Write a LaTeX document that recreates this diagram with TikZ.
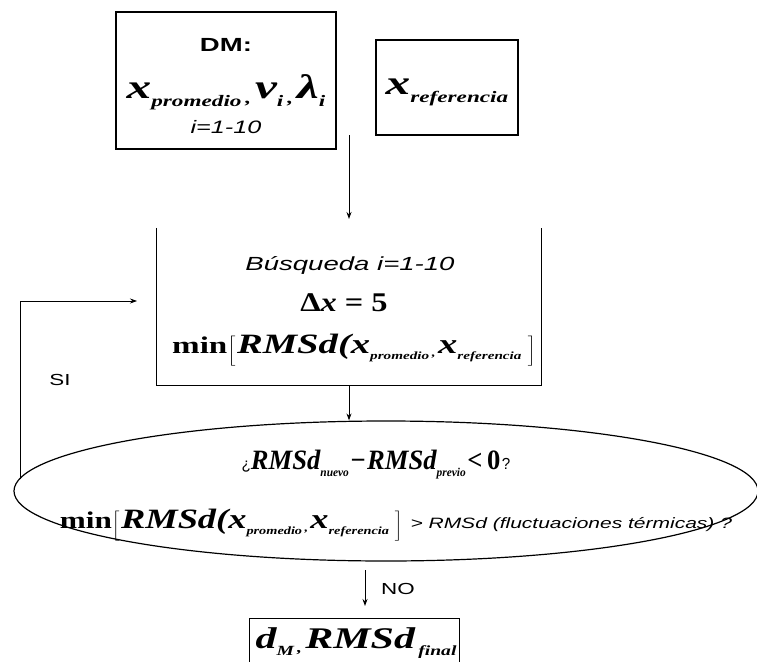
\documentclass[tikz,border=0pt]{standalone}
\usepackage{fontspec}
\setmainfont{Liberation Serif}
\newfontfamily\arial{Liberation Sans}
\usetikzlibrary{arrows.meta,shapes.geometric}
\newcommand\HX[2]{\scalebox{#1}[1]{#2}}
\newcommand\Tm[2]{{\fontsize{#1}{#1}\selectfont\bfseries\itshape #2}}
\newcommand\Sb[3]{\raisebox{-#2pt}{\fontsize{#1}{#1}\selectfont\bfseries\itshape #3}}
\newcommand\Up[2]{{\fontsize{#1}{#1}\selectfont\bfseries #2}}
\newcommand\Rg[2]{{\fontsize{#1}{#1}\selectfont #2}}
\newcommand\Sf[2]{{\arial\fontsize{#1}{#1}\selectfont #2}}
\newcommand\LB[2]{$\left[\vrule height #1pt depth #2pt width 0pt\right.$}
\newcommand\RB[2]{$\left.\vrule height #1pt depth #2pt width 0pt\right]$}
\tikzset{
  boxst/.style={draw, line width=1.3pt, inner sep=0pt},
  openst/.style={draw=none, inner sep=0pt},
  conn/.style={line width=1pt, -{Stealth[length=7pt,width=5pt]}},
  loopst/.style={line width=0.7pt, -{Stealth[length=7pt,width=5pt]}},
  txt/.style={inner sep=0pt, anchor=center},
}
\begin{document}
\begin{tikzpicture}[x=1pt,y=1pt]
\useasboundingbox (0,0) rectangle (757,-661);
% boxes
\node[boxst, minimum width=220pt, minimum height=137pt] (dm) at (226,-80.5) {};
\node[boxst, minimum width=142pt, minimum height=95pt] (xref) at (447,-87.5) {};
\node[openst, minimum width=384pt, minimum height=157pt] (busq) at (349,-306.5) {};
\draw[line width=1.3pt] (busq.north west) -- (busq.south west) -- (busq.south east) -- (busq.north east);
\node[draw, ellipse, line width=1.2pt, minimum width=744pt, minimum height=140pt, inner sep=0pt] (ell) at (386,-491) {};
\node[openst, minimum width=209pt, minimum height=60pt] (fin) at (354.5,-649) {};
\draw[line width=1.3pt] (fin.south west) -- (fin.north west) -- (fin.north east) -- (fin.south east);
% texts
\node[txt] (dmt) at (226,-45) {\HX{1.45}{\Sf{19}{\bfseries DM:}}};
\node[txt] (dmv) at (226,-92) {\HX{1.45}{\Tm{34}{x}\Sb{16}{8}{promedio}\Sb{16}{5}{\,,\,}\Tm{34}{ν}\Sb{16}{8}{i}\Sb{16}{5}{\,,\,}\Tm{34}{λ}\Sb{16}{8}{i}}};
\node[txt] (dmi) at (226,-127) {\HX{1.4}{\Sf{18}{\itshape i=1-10}}};
\node[txt] (xrt) at (447,-92) {\HX{1.45}{\Tm{34}{x}\Sb{16}{8}{referencia}}};
\node[txt] (bq1) at (350,-265) {\HX{1.45}{\Sf{19}{\itshape Búsqueda i=1-10}}};
\node[txt] (bq2) at (344,-303) {\HX{1.2}{\Rg{27}{\bfseries Δ\textit{x} = 5}}};
\node[txt] (bq3) at (354,-350) {\HX{1.38}{\Up{24}{min}\LB{16}{10}\Tm{28}{RMSd(x}\Sb{11}{6}{promedio}\Sb{11}{3}{\,,\,}\Tm{28}{x}\Sb{11}{6}{referencia}\,\,\RB{16}{10}}};
\node[txt] (el1) at (376,-465) {\HX{0.95}{\Sf{16}{¿}\Tm{28}{RMSd}\Sb{12}{7}{nuevo}\,\Up{28}{−}\,\Tm{28}{RMSd}\Sb{12}{7}{previo}\,\Up{28}{<\,0}\,\Sf{16}{?}}};
\node[txt] (el2) at (396,-525) {\HX{1.3}{\Up{24}{min}\LB{16}{10}\Tm{28}{RMSd(x}\Sb{11}{6}{promedio}\Sb{11}{3}{\,,\,}\Tm{28}{x}\Sb{11}{6}{referencia}\,\,\RB{16}{10}}\hspace{8pt}\HX{1.4}{\Sf{15}{\itshape > RMSd (fluctuaciones térmicas) ?}}};
\node[txt] (fint) at (356,-643) {\HX{1.4}{\Tm{30}{d}\Sb{14}{7}{M}\Sb{14}{4}{\,,\,}\Tm{30}{RMSd}\Sb{14}{7}{\,final}}};
\node[txt] (si) at (60,-380) {\HX{1.4}{\Sf{16}{SI}}};
\node[txt] (no) at (398,-589) {\HX{1.4}{\Sf{16}{NO}}};
% connectors
\coordinate (a1s) at (349,-135);
\coordinate (a1e) at (349,-219);
\draw[conn] (a1s) -- (a1e);
\draw[conn] (busq.south) -- (busq.south |- ell.north);
\coordinate (sis) at (20,-479);
\coordinate (sie) at (137,-301);
\draw[loopst] (sis) |- (sie);
\coordinate (a3s) at (365,-570);
\coordinate (a3e) at (365,-606);
\draw[conn] (a3s) -- (a3e);
\end{tikzpicture}
\end{document}
